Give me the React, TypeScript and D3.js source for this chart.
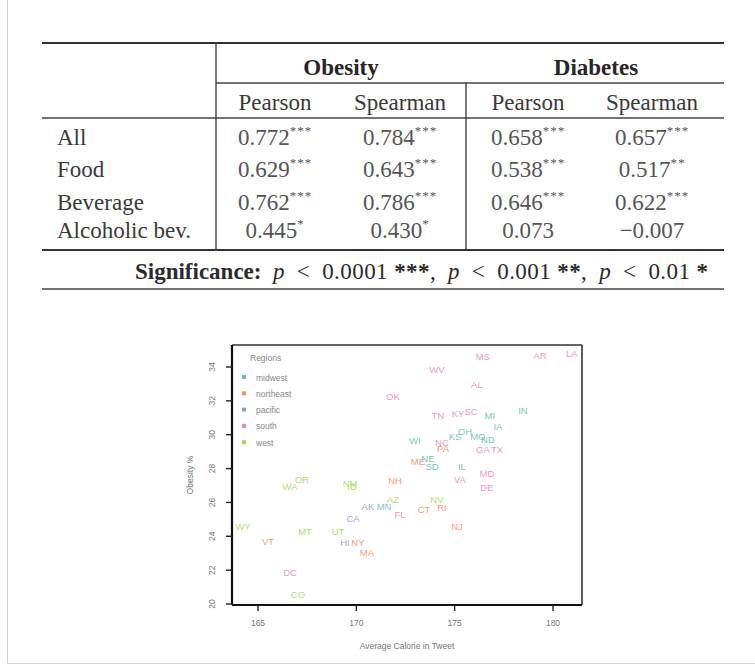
import React from "react";
import * as d3 from "d3";

// ---------- Table data ----------
const rowLabels = ["All", "Food", "Beverage", "Alcoholic bev."];
const groupLabels = ["Obesity", "Diabetes"];
const methodLabels = ["Pearson", "Spearman", "Pearson", "Spearman"];
const obesityPearson = [0.772, 0.629, 0.762, 0.445];
const obesityPearsonSig = ["***", "***", "***", "*"];
const obesitySpearman = [0.784, 0.643, 0.786, 0.43];
const obesitySpearmanSig = ["***", "***", "***", "*"];
const diabetesPearson = [0.658, 0.538, 0.646, 0.073];
const diabetesPearsonSig = ["***", "***", "***", ""];
const diabetesSpearman = [0.657, 0.517, 0.622, -0.007];
const diabetesSpearmanSig = ["***", "**", "***", ""];

// ---------- Scatter data ----------
const regions = ["midwest", "northeast", "pacific", "south", "west"];
const states = [
  "MS", "AR", "LA", "WV", "AL", "OK", "TN", "KY", "SC", "MI", "IN", "IA", "WI",
  "OH", "KS", "MO", "ND", "NC", "PA", "GA", "TX", "ME", "NE", "SD", "IL", "VA",
  "MD", "DE", "NH", "NM", "ID", "OR", "WA", "AZ", "NV", "RI", "CT", "AK", "MN",
  "FL", "CA", "NJ", "WY", "MT", "UT", "VT", "HI", "NY", "MA", "DC", "CO",
];
const calories = [
  176.44, 179.34, 180.96, 174.1, 176.13, 171.86, 174.15, 175.17, 175.83, 176.79, 178.47, 177.2, 172.98,
  175.52, 175.02, 176.18, 176.69, 174.35, 174.41, 176.44, 177.15, 173.13, 173.64, 173.85, 175.37, 175.27,
  176.64, 176.64, 171.97, 169.68, 169.78, 167.24, 166.63, 171.86, 174.1, 174.35, 173.44, 170.59, 171.41,
  172.22, 169.83, 175.12, 164.24, 167.39, 169.07, 165.51, 169.42, 170.08, 170.54, 166.63, 167.03,
];
const obesity = [
  34.59, 34.65, 34.77, 33.82, 32.94, 32.23, 31.1, 31.22, 31.34, 31.1, 31.4, 30.45, 29.63,
  30.16, 29.86, 29.86, 29.69, 29.51, 29.16, 29.1, 29.1, 28.39, 28.56, 28.09, 28.09, 27.32,
  27.68, 26.85, 27.27, 27.09, 26.91, 27.32, 26.91, 26.14, 26.14, 25.67, 25.55, 25.73, 25.73,
  25.26, 25.02, 24.55, 24.55, 24.25, 24.25, 23.66, 23.6, 23.6, 23.01, 21.83, 20.53,
];
const stateRegion = [
  "south", "south", "south", "south", "south", "south", "south", "south", "south", "midwest", "midwest", "midwest", "midwest",
  "midwest", "midwest", "midwest", "midwest", "south", "northeast", "south", "south", "northeast", "midwest", "midwest", "midwest", "south",
  "south", "south", "northeast", "west", "west", "west", "west", "west", "west", "northeast", "northeast", "pacific", "midwest",
  "south", "pacific", "northeast", "west", "west", "west", "northeast", "pacific", "northeast", "northeast", "south", "west",
];
const xTicks = [165, 170, 175, 180];
const yTicks = [20, 22, 24, 26, 28, 30, 32, 34];

const serif = "'Liberation Serif', 'DejaVu Serif', serif";
const sans = "'Liberation Sans', Arial, sans-serif";

export default function App() {
  // table layout
  const tLeft = 42, tRight = 724;
  const colCenters = [275, 400, 528, 652];
  const rowBase = [145, 176.5, 210, 238];
  const fmt = (v: number) => d3.format(".3f")(v).replace("-", "\u2212");
  const cols = [
    { vals: obesityPearson, sig: obesityPearsonSig },
    { vals: obesitySpearman, sig: obesitySpearmanSig },
    { vals: diabetesPearson, sig: diabetesPearsonSig },
    { vals: diabetesSpearman, sig: diabetesSpearmanSig },
  ];
  const fs = 23;
  const sp = "\u2002";

  // plot layout
  const pL = 232, pR = 582, pT = 345, pB = 605;
  const x = d3.scaleLinear().domain([165, 180]).range([258, 553]);
  const y = d3.scaleLinear().domain([20, 34]).range([604, 367]);
  const color = d3.scaleOrdinal<string, string>().domain(regions).range(d3.schemeSet2.slice(0, 5));

  return (
    <svg width={755} height={672} style={{ position: "absolute", left: 0, top: 0, background: "#fff" }}>
      <rect x={0} y={0} width={755} height={672} fill="#fff" />
      {/* page border */}
      <line x1={7.5} y1={0} x2={7.5} y2={663} stroke="#cfcfcf" strokeWidth={1} />
      <line x1={7.5} y1={663.5} x2={755} y2={663.5} stroke="#d8d8d8" strokeWidth={1} />

      {/* ---------- table ---------- */}
      <g fontFamily={serif} fill="#2b2b2b">
        <line x1={tLeft} x2={tRight} y1={43} y2={43} stroke="#333" strokeWidth={1.8} />
        <line x1={216} x2={tRight} y1={83} y2={83} stroke="#444" strokeWidth={1.3} />
        <line x1={tLeft} x2={tRight} y1={118} y2={118} stroke="#444" strokeWidth={1.3} />
        <line x1={tLeft} x2={tRight} y1={250} y2={250} stroke="#333" strokeWidth={1.8} />
        <line x1={tLeft} x2={tRight} y1={289} y2={289} stroke="#444" strokeWidth={1.5} />
        <line x1={216} x2={216} y1={43} y2={250} stroke="#333" strokeWidth={1.3} />
        <line x1={466} x2={466} y1={83} y2={250} stroke="#333" strokeWidth={1.3} />

        {groupLabels.map((g, i) => (
          <text key={g} x={i === 0 ? 341 : 596} y={75} textAnchor="middle" fontSize={fs} fontWeight="bold" fill="#262626">
            {g}
          </text>
        ))}
        {methodLabels.map((m, i) => (
          <text key={i} x={colCenters[i]} y={110} textAnchor="middle" fontSize={fs} fill="#3a3a3a">
            {m}
          </text>
        ))}
        {rowLabels.map((r, i) => (
          <text key={r} x={57} y={rowBase[i]} fontSize={fs} fill="#3a3a3a">
            {r}
          </text>
        ))}
        {cols.map((c, ci) =>
          c.vals.map((v, ri) => (
            <text key={ci + "-" + ri} x={colCenters[ci]} y={rowBase[ri]} textAnchor="middle" fontSize={fs} fill="#555">
              {fmt(v)}
              {c.sig[ri] ? (
                <tspan fontSize={13} dy={-10} letterSpacing={1}>{c.sig[ri]}</tspan>
              ) : null}
            </text>
          ))
        )}
        <text x={135} y={279} fontSize={fs} fontWeight="bold" fill="#2b2b2b">Significance:</text>
        <text x={273} y={279} fontSize={fs} fill="#2b2b2b" textLength={435} lengthAdjust="spacing">
          <tspan fontStyle="italic">p</tspan>
          <tspan>{sp}&lt;{sp}0.0001 </tspan>
          <tspan fontWeight="bold">***</tspan>
          <tspan>,{sp}</tspan>
          <tspan fontStyle="italic">p</tspan>
          <tspan>{sp}&lt;{sp}0.001 </tspan>
          <tspan fontWeight="bold">**</tspan>
          <tspan>,{sp}</tspan>
          <tspan fontStyle="italic">p</tspan>
          <tspan>{sp}&lt;{sp}0.01 </tspan>
          <tspan fontWeight="bold">*</tspan>
        </text>
      </g>

      {/* ---------- scatter plot ---------- */}
      <g fontFamily={sans}>
        {/* frame */}
        <line x1={pL} x2={pR} y1={pT} y2={pT} stroke="#333" strokeWidth={1.6} />
        <line x1={pR} x2={pR} y1={pT} y2={pB} stroke="#333" strokeWidth={1.6} />
        <line x1={pL} x2={pL} y1={pT} y2={pB} stroke="#111" strokeWidth={2.2} />
        <line x1={pL} x2={pR} y1={pB} y2={pB} stroke="#111" strokeWidth={2.2} />

        {/* x axis ticks */}
        {xTicks.map((t) => (
          <g key={t}>
            <line x1={x(t)} x2={x(t)} y1={pB} y2={pB + 6} stroke="#222" strokeWidth={1.4} />
            <text x={x(t)} y={626} textAnchor="middle" fontSize={8.5} fill="#777">
              {t}
            </text>
          </g>
        ))}
        {/* y axis ticks */}
        {yTicks.map((t) => (
          <g key={t}>
            <line x1={pL - 6} x2={pL} y1={y(t)} y2={y(t)} stroke="#222" strokeWidth={1.4} />
            <text transform={`translate(215,${y(t)}) rotate(-90)`} textAnchor="middle" fontSize={8.5} fill="#777">
              {t}
            </text>
          </g>
        ))}
        <text x={(pL + pR) / 2} y={649} textAnchor="middle" fontSize={8.5} fill="#777">
          Average Calorie in Tweet
        </text>
        <text transform={`translate(193,${(pT + pB) / 2}) rotate(-90)`} textAnchor="middle" fontSize={8.5} fill="#777">
          Obesity %
        </text>

        {/* legend */}
        <text x={250} y={361} fontSize={8.5} fill="#888">Regions</text>
        {regions.map((r, i) => (
          <g key={r}>
            <rect x={242} y={375 + i * 16.3} width={4} height={4} fill={color(r)} />
            <text x={256} y={380.5 + i * 16.3} fontSize={8.5} fill="#888">{r}</text>
          </g>
        ))}

        {/* state labels */}
        {states.map((s, i) => (
          <text
            key={s}
            x={x(calories[i])}
            y={y(obesity[i])}
            dy="0.35em"
            textAnchor="middle"
            fontSize={9.5}
            fill={color(stateRegion[i])}
            fillOpacity={0.9}
          >
            {s}
          </text>
        ))}
      </g>
    </svg>
  );
}
